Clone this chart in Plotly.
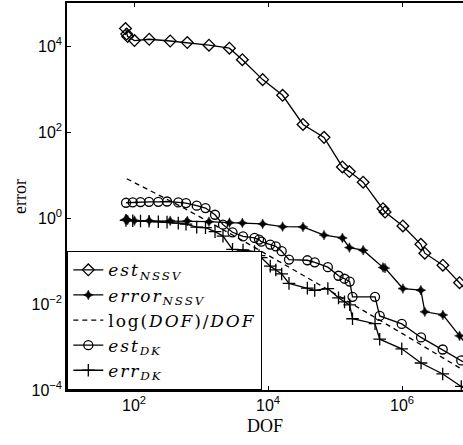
import plotly.graph_objects as go

# ---- data ----
dof_nssv = [74.6, 77.8, 80.5, 101.6, 168.7, 346.7, 623.7, 1315, 2655, 4140, 8318,
            16520, 33270, 68550, 128800, 163700, 263000, 520000, 557200, 1030000,
            1910000, 2188000, 4074000, 7211000, 11220000]
est_nssv = [25410, 18970, 16560, 13400, 14350, 13060, 12050, 10450, 8892, 4797, 1652,
            714.5, 150, 75, 15.4, 12.0, 6.81, 1.64, 1.38, 0.653,
            0.245, 0.152, 0.080, 0.0313, 0.0148]
error_nssv = [0.914, 0.914, 0.902, 0.871, 0.865, 0.861, 0.851, 0.820, 0.780, 0.767, 0.730,
              0.630, 0.619, 0.400, 0.344, 0.205, 0.178, 0.0708, 0.0684, 0.0229,
              0.0210, 0.00659, 0.00556, 0.00182, 0.000776]

dof_dk = [76.0, 95.7, 125, 167.5, 230.7, 311.2, 458.1, 597, 863, 1167, 1618, 2128, 2951,
          4236, 6295, 7345, 7925, 10810, 13060, 16000, 20560, 38640, 49770, 78160,
          112700, 138700, 165600, 182400, 395400, 464500, 990800, 1923000, 4046000,
          7656000, 11220000]
est_dk = [2.26, 2.32, 2.34, 2.38, 2.38, 2.42, 2.30, 2.22, 1.93, 1.70, 1.19, 0.700, 0.465,
          0.373, 0.344, 0.315, 0.282, 0.241, 0.220, 0.169, 0.108, 0.104, 0.0933, 0.0718,
          0.0454, 0.0387, 0.0332, 0.0147, 0.0147, 0.00527, 0.00344, 0.00167, 0.000875,
          0.000486, 0.000342]
err_dk = [0.879, 0.865, 0.853, 0.843, 0.820, 0.800, 0.759, 0.718, 0.612, 0.596, 0.482,
          0.379, 0.187, 0.180, 0.166, 0.134, 0.120, 0.0759, 0.0619, 0.0500, 0.0301,
          0.0234, 0.0207, 0.0229, 0.0139, 0.0112, 0.00957, 0.00454, 0.00348, 0.00152,
          0.000908, 0.000424, 0.000236, 0.000121, 0.0000813]

dof_ref = [78, 500, 4300, 75000, 1000000, 11200000]
ref_line = [8.2, 1.864, 0.2918, 0.02245, 0.002072, 0.0002174]

names = ["<i>est</i><sub><i>NSSV</i></sub>",
         "<i>error</i><sub><i>NSSV</i></sub>",
         "log(<i>DOF</i>)/<i>DOF</i>",
         "<i>est</i><sub><i>DK</i></sub>",
         "<i>err</i><sub><i>DK</i></sub>"]

tick_x = [1e2, 1e4, 1e6]
tick_x_text = ["10<sup>2</sup>", "10<sup>4</sup>", "10<sup>6</sup>"]
tick_y = [1e-4, 1e-2, 1e0, 1e2, 1e4]
tick_y_text = ["10<sup>−4</sup>", "10<sup>−2</sup>", "10<sup>0</sup>",
               "10<sup>2</sup>", "10<sup>4</sup>"]

# ---- figure ----
black = "black"
lw = 1.3
fig = go.Figure()
fig.add_trace(go.Scatter(x=dof_nssv, y=est_nssv, name=names[0], mode="lines+markers",
                         line=dict(color=black, width=lw),
                         marker=dict(symbol="diamond-open", size=9, color=black,
                                     line=dict(width=1.3, color=black))))
fig.add_trace(go.Scatter(x=dof_nssv, y=error_nssv, name=names[1], mode="lines+markers",
                         line=dict(color=black, width=lw),
                         marker=dict(symbol="star-diamond", size=7, color=black,
                                     line=dict(width=0.5, color=black))))
fig.add_trace(go.Scatter(x=dof_ref, y=ref_line, name=names[2], mode="lines",
                         line=dict(color=black, width=lw, dash="5px,4px")))
fig.add_trace(go.Scatter(x=dof_dk, y=est_dk, name=names[3], mode="lines+markers",
                         line=dict(color=black, width=lw),
                         marker=dict(symbol="circle-open", size=9, color=black,
                                     line=dict(width=1.3, color=black))))
fig.add_trace(go.Scatter(x=dof_dk, y=err_dk, name=names[4], mode="lines+markers",
                         line=dict(color=black, width=lw),
                         marker=dict(symbol="cross-thin-open", size=9, color=black,
                                     line=dict(width=1.3, color=black))))

for tr in fig.data:
    tr.name = '<span style="letter-spacing:1.9px">' + tr.name + '</span>'

fig.update_layout(
    width=463, height=445,
    margin=dict(l=67, r=0, t=3, b=55, autoexpand=False),
    paper_bgcolor="white", plot_bgcolor="white",
    font=dict(family="Liberation Sans", size=16, color=black),
    showlegend=True,
    legend=dict(x=0, y=0, xanchor="left", yanchor="bottom",
                bgcolor="white", bordercolor=black, borderwidth=1.3,
                font=dict(family="DejaVu Serif", size=17, color=black),
                itemwidth=30, tracegroupgap=0),
)
fig.update_xaxes(type="log", range=[1, 6.91], tickvals=tick_x, ticktext=tick_x_text,
                 automargin=False,
                 showgrid=False, zeroline=False, showline=True, linecolor=black,
                 linewidth=1.5, mirror="ticks", ticks="inside", ticklen=4,
                 tickcolor=black,
                 title=dict(text="DOF", font=dict(family="Liberation Serif", size=18),
                            standoff=6))
fig.update_yaxes(type="log", range=[-4, 5], tickvals=tick_y, ticktext=tick_y_text,
                 automargin=False,
                 showgrid=False, zeroline=False, showline=True, linecolor=black,
                 linewidth=1.5, mirror=False, ticks="inside", ticklen=4,
                 tickcolor=black,
                 title=dict(text="error", font=dict(family="Liberation Serif", size=18),
                            standoff=0))

fig.write_html("out.html", post_script="document.body.style.margin='0px';",
               config={"displayModeBar": False})
